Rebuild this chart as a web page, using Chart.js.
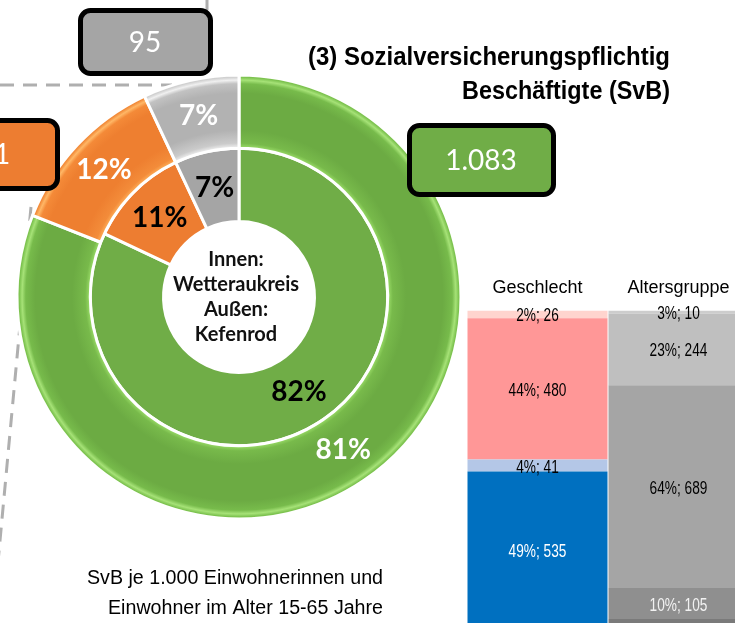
<!DOCTYPE html>
<html>
<head>
<meta charset="utf-8">
<script src="https://cdn.jsdelivr.net/npm/chart.js@4.4.1/dist/chart.umd.min.js"></script>
<style>
    html, body { margin: 0; padding: 0; background: #fff; width: 735px; height: 623px; overflow: hidden; }
    canvas { position: absolute; }
    #ring { left: 0; top: 0; }
    #bars { left: 467px; top: 260px; }
</style>
</head>
<body>
<canvas id="ring" width="735" height="623"></canvas>
<canvas id="bars" width="282" height="370"></canvas>
<script>
// Ring data (inner: Wetteraukreis, outer: Kefenrod), shares in %
const ringCategories = ['Anteil 1', 'Anteil 2', 'Anteil 3'];
const innerValues = [82, 11, 7];
const outerValues = [81, 12, 7];
const boxValues = ['1.083', '161', '95'];

// Stacked columns
const barCategories = ['Geschlecht', 'Altersgruppe'];
const geschlechtValues = [535, 41, 480, 26];
const geschlechtLabels = ['49%; 535', '4%; 41', '44%; 480', '2%; 26'];
const altersValues = [34, 105, 689, 244, 10];
const altersLabels = ['', '10%; 105', '64%; 689', '23%; 244', '3%; 10'];

// styles
const ringColors = ['#70AD47', '#ED7D31', '#A5A5A5'];
const outerShades = [
    ['#9ee06b', '#78ba4b', '#6cab43', '#6cab43', '#77bb4b', '#a6e277', '#7cc24f', '#92d362'],
    ['#ffb25c', '#f38c3a', '#ee7f30', '#ee7f30', '#f48a38', '#ffb766', '#f28a39', '#f9a352'],
    ['#f4f4f4', '#cbcbcb', '#b2b2b2', '#b2b2b2', '#c2c2c2', '#f0f0f0', '#d0d0d0', '#e2e2e2']
];
const shadeStops = [0, 0.07, 0.25, 0.75, 0.88, 0.93, 0.97, 1];
const geschlechtColors = ['#0070C0', '#B4C7E7', '#FF9797', '#FFD4CE'];
const altersColors = ['#7A7A7A', '#8F8F8F', '#A5A5A5', '#BFBFBF', '#CDCDCD'];
const geschlechtText = ['#ffffff', '#000000', '#000000', '#000000'];
const altersText = ['#ffffff', '#f2f2f2', '#000000', '#000000', '#000000'];

const RADIUS = 222;
const CUTOUT = 0.34;

function fitText(ctx, text, x, y, width, align) {
    const w = ctx.measureText(text).width;
    ctx.save();
    ctx.translate(x, y);
    ctx.scale(width / w, 1);
    ctx.textAlign = align;
    ctx.fillText(text, 0, 0);
    ctx.restore();
}

function squeezeText(ctx, text, x, y, sx) {
    ctx.save();
    ctx.translate(x, y);
    ctx.scale(sx, 1);
    ctx.fillText(text, 0, 0);
    ctx.restore();
}

function roundBox(ctx, x, y, w, h, r, fill) {
    ctx.beginPath();
    ctx.roundRect(x, y, w, h, r);
    ctx.fillStyle = fill;
    ctx.fill();
    ctx.lineWidth = 5;
    ctx.strokeStyle = '#000';
    ctx.stroke();
}

function outerFill(c) {
    const chart = c.chart;
    const area = chart.chartArea;
    if (!area) return ringColors[c.dataIndex];
    const cx = (area.left + area.right) / 2;
    const cy = (area.top + area.bottom) / 2;
    const r0 = RADIUS * CUTOUT;
    const rIn = r0 + (RADIUS - r0) / 2;
    const g = chart.ctx.createRadialGradient(cx, cy, rIn, cx, cy, RADIUS);
    outerShades[c.dataIndex].forEach((col, k) => g.addColorStop(shadeStops[k], col));
    return g;
}

const ringDecor = {
    id: 'ringDecor',
    beforeDatasetsDraw(chart) {
        const ctx = chart.ctx;
        ctx.save();
        ctx.strokeStyle = '#AFAFAF';
        ctx.lineWidth = 3;
        ctx.setLineDash([14, 9]);
        ctx.beginPath();
        ctx.moveTo(207, -4); ctx.lineTo(207, 20);
        ctx.moveTo(0, 85); ctx.lineTo(172, 85);
        ctx.moveTo(31, 207); ctx.lineTo(-2, 562);
        ctx.stroke();
        ctx.restore();
    },
    afterDatasetsDraw(chart) {
        const ctx = chart.ctx;
        ctx.save();
        // percentages on the arcs
        ctx.font = 'bold 28px Lato';
        ctx.textAlign = 'center';
        ctx.textBaseline = 'middle';
        chart.data.datasets.forEach((ds, di) => {
            chart.getDatasetMeta(di).data.forEach((arc, i) => {
                const p = arc.tooltipPosition();
                ctx.fillStyle = di === 0 ? '#ffffff' : '#000000';
                ctx.fillText(ds.data[i] + '%', p.x, p.y);
            });
        });

        // centre text
        const meta = chart.getDatasetMeta(0).data[0];
        const cx = meta.x - 3;
        ctx.font = 'bold 20px Lato';
        ctx.fillStyle = '#111';
        ['Innen:', 'Wetteraukreis', 'Außen:', 'Kefenrod'].forEach((t, k) => {
            ctx.fillText(t, cx, 260 + k * 25);
        });

        // value boxes
        roundBox(ctx, 409.5, 125.5, 144, 69, 10, ringColors[0]);
        roundBox(ctx, -90, 120.5, 147.5, 68, 10, ringColors[1]);
        roundBox(ctx, 80.5, 10.5, 130, 63, 10, ringColors[2]);
        ctx.font = '28px Lato';
        ctx.fillStyle = '#ffffff';
        ctx.fillText(boxValues[0], 481, 161);
        ctx.fillText(boxValues[1], -14, 155);
        ctx.fillText(boxValues[2], 145, 43);

        // title
        ctx.fillStyle = '#000';
        ctx.textBaseline = 'alphabetic';
        ctx.font = 'bold 25px "Liberation Sans"';
        fitText(ctx, '(3) Sozialversicherungspflichtig', 670, 65, 362, 'right');
        fitText(ctx, 'Beschäftigte (SvB)', 670, 99, 208, 'right');

        // note
        ctx.font = '20px "Liberation Sans"';
        fitText(ctx, 'SvB je 1.000 Einwohnerinnen und', 383, 584, 296, 'right');
        fitText(ctx, 'Einwohner im Alter 15-65 Jahre', 383, 614, 275, 'right');
        ctx.restore();
    }
};

new Chart(document.getElementById('ring'), {
    type: 'doughnut',
    data: {
        labels: ringCategories,
        datasets: [
            { data: outerValues, backgroundColor: outerFill, borderColor: '#ffffff', borderWidth: 3 },
            { data: innerValues, backgroundColor: ringColors, borderColor: '#ffffff', borderWidth: 3 }
        ]
    },
    options: {
        responsive: false,
        animation: false,
        radius: RADIUS,
        cutout: (CUTOUT * 100) + '%',
        layout: { padding: { left: 0, top: 0, right: 257, bottom: 29 } },
        plugins: { legend: { display: false }, tooltip: { enabled: false } }
    },
    plugins: [ringDecor]
});

const barLabels = {
    id: 'barLabels',
    afterDatasetsDraw(chart) {
        const ctx = chart.ctx;
        ctx.save();
        ctx.font = '18px "Liberation Sans"';
        ctx.textAlign = 'center';
        ctx.textBaseline = 'middle';
        chart.data.datasets.forEach((ds, di) => {
            chart.getDatasetMeta(di).data.forEach((bar, j) => {
                const text = j === 0 ? geschlechtLabels[di] : altersLabels[di];
                if (!text) return;
                ctx.fillStyle = j === 0 ? geschlechtText[di] : altersText[di];
                const y = (bar.y + bar.base) / 2 + 2;
                squeezeText(ctx, text, bar.x, y, 0.76);
            });
        });
        ctx.restore();
    }
};

const total = geschlechtValues.reduce((a, b) => a + b, 0);

new Chart(document.getElementById('bars'), {
    type: 'bar',
    data: {
        labels: barCategories,
        datasets: altersValues.map((v, i) => ({
            data: [i < geschlechtValues.length ? geschlechtValues[i] : null, v],
            backgroundColor: [geschlechtColors[i] || 'transparent', altersColors[i]],
            borderWidth: 0,
            barPercentage: 140 / 141,
            categoryPercentage: 1
        }))
    },
    options: {
        responsive: false,
        animation: false,
        layout: { padding: { top: 5, bottom: 1, left: 0, right: 0 } },
        scales: {
            x: {
                position: 'top',
                stacked: true,
                grid: { display: false, drawTicks: false },
                border: { display: false },
                ticks: { color: '#000', padding: 12, font: { family: 'Liberation Sans', size: 18 } }
            },
            y: { stacked: true, display: false, min: 0, max: total }
        },
        plugins: { legend: { display: false }, tooltip: { enabled: false } }
    },
    plugins: [barLabels]
});
</script>
</body>
</html>
